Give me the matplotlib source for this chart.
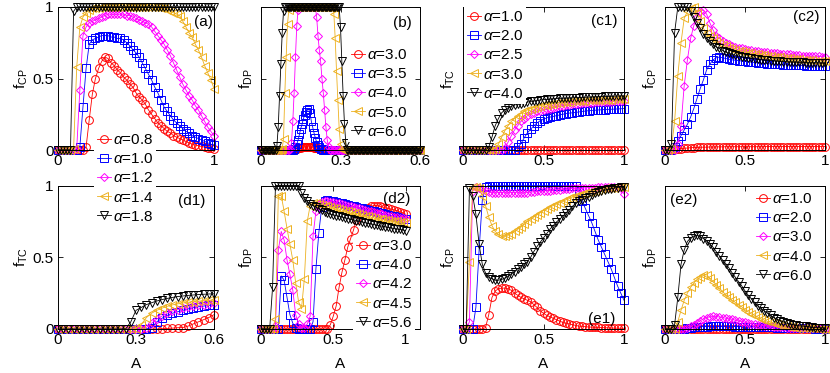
import numpy as np
import matplotlib

matplotlib.use("Agg")
import matplotlib.pyplot as plt

plt.rcParams["font.family"] = ["Liberation Sans", "DejaVu Sans"]
plt.rcParams["mathtext.fontset"] = "custom"
plt.rcParams["mathtext.rm"] = "Liberation Sans"
plt.rcParams["mathtext.it"] = "Liberation Sans:italic"

RED, BLUE, MAG, ORG, BLK = "#FF0000", "#0000FF", "#FF00FF", "#EDB120", "#000000"
COLORS = [RED, BLUE, MAG, ORG, BLK]
MARKERS = ["o", "s", "D", "<", "v"]
MSIZE = {"o": 5.6, "s": 5.2, "D": 4.0, "<": 5.8, "v": 5.8}

# sampling grids of A used by the simulations
A1 = np.linspace(0, 1, 51)         # 0..1, step 0.02
A06 = np.linspace(0, 0.6, 31)      # 0..0.6, step 0.02
A06F = np.linspace(0, 0.6, 121)    # 0..0.6, step 0.005

# legend alphas
alpha_ad = ["0.8", "1.0", "1.2", "1.4", "1.8"]
alpha_b = ["3.0", "3.5", "4.0", "5.0", "6.0"]
alpha_c = ["1.0", "2.0", "2.5", "3.0", "4.0"]
alpha_d2 = ["3.0", "4.0", "4.2", "4.5", "5.6"]
alpha_e = ["1.0", "2.0", "3.0", "4.0", "6.0"]

# ---- (a) f_CP ----
a_red = [0, 0, 0, 0, 0, 0, 0, 0, 0, 0.02,
         0.21, 0.39, 0.50, 0.57, 0.62, 0.65, 0.64, 0.61, 0.59, 0.56,
         0.54, 0.51, 0.49, 0.46, 0.44, 0.40, 0.37, 0.35, 0.32, 0.28,
         0.25, 0.22, 0.19, 0.17, 0.15, 0.13, 0.12, 0.10, 0.09, 0.08,
         0.07, 0.06, 0.05, 0.04, 0.035, 0.03, 0.025, 0.02, 0.015, 0.015,
         0.01]
a_blue = [0, 0, 0, 0, 0, 0, 0, 0.02, 0.30, 0.57,
          0.74, 0.77, 0.78, 0.79, 0.80, 0.80, 0.80, 0.79, 0.79, 0.78,
          0.78, 0.77, 0.75, 0.73, 0.70, 0.68, 0.65, 0.61, 0.57, 0.53,
          0.49, 0.44, 0.40, 0.35, 0.30, 0.27, 0.24, 0.21, 0.19, 0.17,
          0.15, 0.13, 0.12, 0.10, 0.09, 0.08, 0.07, 0.06, 0.05, 0.04,
          0.035]
a_mag = [0, 0, 0, 0, 0, 0, 0.01, 0.42, 0.80, 0.86,
         0.89, 0.90, 0.91, 0.92, 0.93, 0.94, 0.95, 0.95, 0.95, 0.95,
         0.95, 0.95, 0.94, 0.94, 0.93, 0.92, 0.91, 0.90, 0.89, 0.88,
         0.86, 0.83, 0.80, 0.77, 0.74, 0.70, 0.66, 0.61, 0.56, 0.51,
         0.46, 0.42, 0.38, 0.35, 0.31, 0.28, 0.24, 0.20, 0.16, 0.13,
         0.10]
a_org = [0, 0, 0, 0, 0, 0.01, 0.58, 0.86, 0.93, 0.96,
         0.98, 0.99, 0.99, 0.99, 1, 1, 1, 1, 1, 1,
         1, 1, 1, 1, 1, 1, 1, 1, 1, 1,
         1, 1, 1, 0.99, 0.99, 0.98, 0.97, 0.96, 0.95, 0.94,
         0.90, 0.86, 0.82, 0.79, 0.74, 0.70, 0.65, 0.59, 0.54, 0.49,
         0.43]
a_blk = [0, 0, 0, 0, 0, 0.97, 1, 1, 1, 1,
         1, 1, 1, 1, 1, 1, 1, 1, 1, 1,
         1, 1, 1, 1, 1, 1, 1, 1, 1, 1,
         1, 1, 1, 1, 1, 1, 1, 1, 1, 1,
         1, 1, 1, 1, 1, 1, 1, 1, 1, 1,
         1]

# ---- (b) f_DP, fine grid ----
b_red = [0, 0, 0, 0, 0, 0, 0, 0, 0, 0, 0, 0, 0, 0, 0, 0, 0, 0, 0, 0,
         0, 0, 0, 0, 0.003, 0.005, 0.008, 0.01, 0.012, 0.014, 0.016, 0.018, 0.02, 0.021, 0.022, 0.022, 0.022, 0.021, 0.02, 0.019,
         0.017, 0.015, 0.013, 0.011, 0.008, 0.006, 0.004, 0.003, 0.002, 0, 0, 0, 0, 0, 0, 0, 0, 0, 0, 0,
         0, 0, 0, 0, 0, 0, 0, 0, 0, 0, 0, 0, 0, 0, 0, 0, 0, 0, 0, 0,
         0, 0, 0, 0, 0, 0, 0, 0, 0, 0, 0, 0, 0, 0, 0, 0, 0, 0, 0, 0,
         0, 0, 0, 0, 0, 0, 0, 0, 0, 0, 0, 0, 0, 0, 0, 0, 0, 0, 0, 0,
         0]
b_blue = [0, 0, 0, 0, 0, 0, 0, 0, 0, 0, 0, 0, 0, 0, 0, 0, 0, 0, 0, 0,
          0, 0, 0, 0, 0, 0.01, 0.02, 0.04, 0.07, 0.11, 0.15, 0.18, 0.22, 0.245, 0.265, 0.28, 0.285, 0.26, 0.20, 0.16,
          0.12, 0.085, 0.055, 0.035, 0.02, 0.01, 0.005, 0, 0, 0, 0, 0, 0, 0, 0, 0, 0, 0, 0, 0,
          0, 0, 0, 0, 0, 0, 0, 0, 0, 0, 0, 0, 0, 0, 0, 0, 0, 0, 0, 0,
          0, 0, 0, 0, 0, 0, 0, 0, 0, 0, 0, 0, 0, 0, 0, 0, 0, 0, 0, 0,
          0, 0, 0, 0, 0, 0, 0, 0, 0, 0, 0, 0, 0, 0, 0, 0, 0, 0, 0, 0,
          0]
b_mag = [0, 0, 0, 0, 0, 0, 0, 0, 0, 0, 0, 0, 0, 0, 0, 0, 0, 0, 0, 0,
         0, 0, 0.01, 0.05, 0.2, 0.4, 0.65, 0.87, 0.98, 1, 1, 1, 1, 1, 1, 1, 1, 1, 1, 1,
         1, 1, 0.93, 0.80, 0.70, 0.62, 0.50, 0.40, 0.28, 0.16, 0.07, 0.02, 0, 0, 0, 0, 0, 0, 0, 0,
         0, 0, 0, 0, 0, 0, 0, 0, 0, 0, 0, 0, 0, 0, 0, 0, 0, 0, 0, 0,
         0, 0, 0, 0, 0, 0, 0, 0, 0, 0, 0, 0, 0, 0, 0, 0, 0, 0, 0, 0,
         0, 0, 0, 0, 0, 0, 0, 0, 0, 0, 0, 0, 0, 0, 0, 0, 0, 0, 0, 0,
         0]
b_org = [0, 0, 0, 0, 0, 0, 0, 0, 0, 0, 0, 0, 0, 0, 0, 0, 0.01, 0.08, 0.40, 0.65,
         0.88, 0.98, 1, 1, 1, 1, 1, 1, 1, 1, 1, 1, 1, 1, 1, 1, 1, 1, 1, 1,
         1, 1, 1, 1, 1, 1, 1, 1, 1, 1, 1, 1, 1, 1, 1, 0.95, 0.78, 0.55, 0.35, 0.15,
         0.04, 0.01, 0, 0, 0, 0, 0, 0, 0, 0, 0, 0, 0, 0, 0, 0, 0, 0, 0, 0,
         0, 0, 0, 0, 0, 0, 0, 0, 0, 0, 0, 0, 0, 0, 0, 0, 0, 0, 0, 0,
         0, 0, 0, 0, 0, 0, 0, 0, 0, 0, 0, 0, 0, 0, 0, 0, 0, 0, 0, 0,
         0]
b_blk = [0, 0, 0, 0, 0, 0, 0, 0, 0, 0, 0, 0, 0.03, 0.16, 0.38, 0.60, 0.82, 0.97, 1, 1,
         1, 1, 1, 1, 1, 1, 1, 1, 1, 1, 1, 1, 1, 1, 1, 1, 1, 1, 1, 1,
         1, 1, 1, 1, 1, 1, 1, 1, 1, 1, 1, 1, 1, 1, 1, 1, 1, 1, 1, 1,
         0.86, 0.62, 0.38, 0.18, 0.05, 0, 0, 0, 0, 0, 0, 0, 0, 0, 0, 0, 0, 0, 0, 0,
         0, 0, 0, 0, 0, 0, 0, 0, 0, 0, 0, 0, 0, 0, 0, 0, 0, 0, 0, 0,
         0, 0, 0, 0, 0, 0, 0, 0, 0, 0, 0, 0, 0, 0, 0, 0, 0, 0, 0, 0,
         0]

# ---- (c1) f_TC ----
c1_red = [0, 0, 0, 0, 0, 0, 0, 0, 0, 0,
          0, 0, 0, 0, 0, 0, 0, 0, 0, 0,
          0, 0, 0, 0, 0, 0, 0, 0, 0, 0,
          0, 0, 0, 0, 0, 0, 0, 0, 0, 0,
          0, 0, 0, 0, 0, 0, 0, 0, 0, 0,
          0]
c1_blue = [0, 0, 0, 0, 0, 0, 0, 0, 0, 0,
           0, 0, 0, 0, 0, 0, 0, 0.02, 0.045, 0.085,
           0.12, 0.145, 0.17, 0.19, 0.205, 0.215, 0.225, 0.23, 0.235, 0.24,
           0.245, 0.25, 0.255, 0.258, 0.26, 0.263, 0.266, 0.27, 0.272, 0.275,
           0.277, 0.278, 0.28, 0.281, 0.283, 0.284, 0.285, 0.286, 0.287, 0.288,
           0.29]
c1_mag = [0, 0, 0, 0, 0, 0, 0, 0, 0, 0,
          0, 0, 0, 0.015, 0.055, 0.10, 0.14, 0.17, 0.20, 0.22,
          0.24, 0.25, 0.26, 0.27, 0.275, 0.28, 0.285, 0.29, 0.295, 0.30,
          0.305, 0.31, 0.313, 0.316, 0.32, 0.322, 0.324, 0.326, 0.328, 0.33,
          0.332, 0.333, 0.334, 0.335, 0.336, 0.337, 0.338, 0.34, 0.341, 0.342,
          0.344]
c1_org = [0, 0, 0, 0, 0, 0, 0, 0, 0, 0,
          0.01, 0.04, 0.09, 0.135, 0.17, 0.20, 0.22, 0.24, 0.255, 0.27,
          0.28, 0.29, 0.295, 0.30, 0.31, 0.315, 0.318, 0.32, 0.325, 0.328,
          0.33, 0.333, 0.335, 0.337, 0.34, 0.342, 0.343, 0.345, 0.346, 0.347,
          0.348, 0.349, 0.35, 0.351, 0.352, 0.353, 0.353, 0.354, 0.355, 0.355,
          0.356]
c1_blk = [0, 0, 0, 0, 0, 0, 0, 0, 0.02, 0.09,
          0.17, 0.22, 0.26, 0.28, 0.295, 0.305, 0.315, 0.32, 0.325, 0.33,
          0.335, 0.34, 0.343, 0.346, 0.349, 0.352, 0.354, 0.356, 0.358, 0.36,
          0.361, 0.362, 0.363, 0.364, 0.365, 0.366, 0.367, 0.368, 0.369, 0.37,
          0.371, 0.372, 0.373, 0.374, 0.375, 0.375, 0.376, 0.377, 0.377, 0.378,
          0.378]

# ---- (c2) f_CP ----
c2_red = [0, 0, 0.002, 0.005, 0.008, 0.01, 0.012, 0.014, 0.016, 0.017,
          0.018, 0.019, 0.02, 0.02, 0.021, 0.021, 0.022, 0.022, 0.022, 0.023,
          0.023, 0.023, 0.023, 0.023, 0.023, 0.023, 0.023, 0.023, 0.023, 0.023,
          0.023, 0.024, 0.024, 0.024, 0.024, 0.024, 0.024, 0.024, 0.024, 0.024,
          0.024, 0.024, 0.024, 0.024, 0.024, 0.024, 0.024, 0.024, 0.024, 0.024,
          0.024]
c2_blue = [0, 0, 0, 0.02, 0.06, 0.10, 0.14, 0.18, 0.23, 0.29,
           0.36, 0.43, 0.49, 0.56, 0.60, 0.63, 0.645, 0.65, 0.645, 0.64,
           0.635, 0.63, 0.628, 0.625, 0.622, 0.62, 0.617, 0.615, 0.612, 0.61,
           0.608, 0.606, 0.604, 0.602, 0.60, 0.60, 0.598, 0.597, 0.596, 0.595,
           0.594, 0.593, 0.592, 0.591, 0.59, 0.59, 0.589, 0.588, 0.588, 0.587,
           0.586]
c2_mag = [0, 0, 0, 0, 0.04, 0.17, 0.45, 0.63, 0.78, 0.87,
          0.93, 0.97, 0.98, 0.95, 0.89, 0.84, 0.80, 0.78, 0.76, 0.75,
          0.74, 0.73, 0.72, 0.715, 0.71, 0.705, 0.70, 0.697, 0.694, 0.691,
          0.688, 0.685, 0.683, 0.68, 0.678, 0.676, 0.674, 0.672, 0.67, 0.668,
          0.666, 0.664, 0.662, 0.66, 0.659, 0.657, 0.656, 0.655, 0.654, 0.653,
          0.652]
c2_org = [0, 0, 0.01, 0.20, 0.52, 0.75, 0.92, 0.97, 0.99, 1.0,
          0.96, 0.90, 0.85, 0.82, 0.80, 0.78, 0.76, 0.745, 0.735, 0.725,
          0.715, 0.705, 0.70, 0.695, 0.69, 0.685, 0.68, 0.676, 0.672, 0.668,
          0.665, 0.662, 0.659, 0.656, 0.653, 0.65, 0.648, 0.645, 0.643, 0.64,
          0.638, 0.636, 0.634, 0.632, 0.63, 0.628, 0.626, 0.625, 0.624, 0.622,
          0.62]
c2_blk = [0, 0, 0.04, 0.82, 1, 1, 1, 1, 0.97, 0.93,
          0.89, 0.85, 0.81, 0.78, 0.76, 0.74, 0.72, 0.71, 0.695, 0.685,
          0.675, 0.668, 0.662, 0.657, 0.652, 0.648, 0.644, 0.64, 0.637, 0.634,
          0.631, 0.629, 0.627, 0.625, 0.623, 0.621, 0.62, 0.618, 0.617, 0.616,
          0.615, 0.614, 0.613, 0.612, 0.611, 0.61, 0.61, 0.609, 0.609, 0.608,
          0.608]

# ---- (d1) f_TC, A up to 0.6 ----
d1_red = [0, 0, 0, 0, 0, 0, 0, 0, 0, 0,
          0, 0, 0, 0, 0, 0, 0, 0, 0, 0,
          0.002, 0.004, 0.006, 0.009, 0.01, 0.02, 0.035, 0.05, 0.065, 0.08,
          0.10]
d1_blue = [0, 0, 0, 0, 0, 0, 0, 0, 0, 0,
           0, 0, 0, 0, 0, 0, 0, 0, 0.01, 0.05,
           0.075, 0.095, 0.11, 0.12, 0.13, 0.14, 0.148, 0.155, 0.16, 0.165,
           0.17]
d1_mag = [0, 0, 0, 0, 0, 0, 0, 0, 0, 0,
          0, 0, 0, 0, 0, 0, 0, 0.01, 0.04, 0.07,
          0.09, 0.11, 0.125, 0.135, 0.145, 0.153, 0.16, 0.165, 0.17, 0.175,
          0.18]
d1_org = [0, 0, 0, 0, 0, 0, 0, 0, 0, 0,
          0, 0, 0, 0, 0, 0, 0.03, 0.08, 0.11, 0.13,
          0.145, 0.158, 0.168, 0.175, 0.181, 0.186, 0.19, 0.194, 0.197, 0.20,
          0.202]
d1_blk = [0, 0, 0, 0, 0, 0, 0, 0, 0, 0,
          0, 0, 0, 0, 0.05, 0.13, 0.15, 0.17, 0.183, 0.195,
          0.205, 0.213, 0.22, 0.226, 0.23, 0.234, 0.237, 0.24, 0.242, 0.244,
          0.245]

# ---- (d2) f_DP ----
d2_red = [0, 0, 0, 0, 0, 0, 0, 0, 0, 0,
          0, 0, 0, 0, 0, 0, 0, 0, 0, 0,
          0, 0, 0, 0, 0.03, 0.09, 0.16, 0.29, 0.395, 0.48,
          0.57, 0.63, 0.69, 0.76, 0.80, 0.815, 0.83, 0.845, 0.855, 0.86,
          0.86, 0.855, 0.85, 0.845, 0.84, 0.835, 0.83, 0.825, 0.815, 0.81,
          0.80]
d2_blue = [0, 0, 0, 0, 0, 0, 0, 0.37, 0.34, 0.22,
           0.10, 0.04, 0.01, 0, 0, 0, 0, 0, 0.05, 0.42,
           0.67, 0.85, 0.89, 0.90, 0.895, 0.89, 0.885, 0.88, 0.875, 0.87,
           0.865, 0.86, 0.855, 0.85, 0.845, 0.84, 0.835, 0.83, 0.825, 0.82,
           0.815, 0.81, 0.805, 0.80, 0.795, 0.79, 0.785, 0.78, 0.775, 0.77,
           0.765]
d2_mag = [0, 0, 0, 0, 0, 0.02, 0.55, 0.68, 0.62, 0.48,
          0.38, 0.27, 0.10, 0.035, 0.01, 0.01, 0.035, 0.09, 0.65, 0.82,
          0.87, 0.885, 0.89, 0.89, 0.888, 0.885, 0.88, 0.875, 0.87, 0.865,
          0.86, 0.855, 0.85, 0.845, 0.84, 0.835, 0.83, 0.825, 0.82, 0.815,
          0.81, 0.805, 0.80, 0.795, 0.79, 0.785, 0.78, 0.78, 0.775, 0.775,
          0.77]
d2_org = [0, 0, 0, 0, 0, 0.07, 0.93, 0.93, 0.82, 0.70,
          0.59, 0.48, 0.32, 0.19, 0.14, 0.35, 0.75, 0.86, 0.88, 0.875,
          0.87, 0.865, 0.86, 0.855, 0.85, 0.845, 0.84, 0.835, 0.83, 0.825,
          0.82, 0.815, 0.81, 0.805, 0.80, 0.795, 0.79, 0.785, 0.78, 0.775,
          0.77, 0.767, 0.764, 0.761, 0.758, 0.755, 0.752, 0.75, 0.747, 0.744,
          0.74]
d2_blk = [0, 0, 0, 0, 0.29, 1, 1, 1, 1, 1,
          1, 1, 1, 1, 0.95, 0.915, 0.89, 0.87, 0.86, 0.85,
          0.837, 0.827, 0.818, 0.809, 0.80, 0.795, 0.79, 0.785, 0.78, 0.775,
          0.77, 0.765, 0.76, 0.756, 0.751, 0.746, 0.741, 0.736, 0.732, 0.728,
          0.724, 0.72, 0.716, 0.712, 0.708, 0.704, 0.70, 0.697, 0.694, 0.69,
          0.686]

# ---- (e1) f_CP ----
e1_red = [0, 0, 0, 0, 0, 0, 0, 0.01, 0.10, 0.22,
          0.265, 0.28, 0.285, 0.285, 0.28, 0.27, 0.25, 0.235, 0.22, 0.21,
          0.20, 0.19, 0.17, 0.15, 0.125, 0.11, 0.095, 0.085, 0.075, 0.065,
          0.055, 0.046, 0.04, 0.035, 0.03, 0.025, 0.02, 0.018, 0.016, 0.014,
          0.013, 0.012, 0.011, 0.01, 0.009, 0.008, 0.007, 0.006, 0.006, 0.005,
          0.005]
e1_blue = [0, 0, 0, 0, 0.15, 0.55, 0.90, 0.99, 1, 1,
           1, 1, 1, 1, 1, 1, 1, 1, 1, 1,
           1, 1, 1, 1, 1, 1, 1, 1, 1, 1,
           1, 1, 1, 1, 1, 1, 0.96, 0.89, 0.84, 0.79,
           0.74, 0.68, 0.62, 0.57, 0.52, 0.47, 0.42, 0.36, 0.30, 0.25,
           0.20]
e1_mag = [0, 0, 0.05, 0.96, 0.99, 0.985, 0.97, 0.96, 0.955, 0.95,
          0.95, 0.95, 0.95, 0.95, 0.95, 0.95, 0.95, 0.95, 0.95, 0.95,
          0.95, 0.955, 0.955, 0.96, 0.96, 0.96, 0.965, 0.965, 0.97, 0.97,
          0.97, 0.975, 0.975, 0.975, 0.98, 0.98, 0.98, 0.98, 0.985, 0.985,
          0.985, 0.985, 0.99, 0.99, 0.99, 0.99, 0.99, 0.99, 0.99, 0.985,
          0.94]
e1_org = [0, 0, 0.47, 0.99, 0.99, 0.98, 0.93, 0.86, 0.78, 0.72,
          0.68, 0.66, 0.645, 0.645, 0.655, 0.665, 0.68, 0.695, 0.71, 0.73,
          0.75, 0.765, 0.78, 0.795, 0.81, 0.825, 0.835, 0.85, 0.86, 0.87,
          0.88, 0.89, 0.90, 0.91, 0.92, 0.925, 0.935, 0.94, 0.95, 0.955,
          0.96, 0.965, 0.97, 0.975, 0.98, 0.98, 0.985, 0.985, 0.99, 0.99,
          0.99]
e1_blk = [0, 0, 0.98, 0.93, 0.80, 0.59, 0.45, 0.39, 0.36, 0.35,
          0.34, 0.34, 0.345, 0.355, 0.37, 0.385, 0.40, 0.42, 0.435, 0.45,
          0.47, 0.50, 0.54, 0.575, 0.605, 0.635, 0.665, 0.695, 0.72, 0.745,
          0.765, 0.785, 0.81, 0.83, 0.855, 0.875, 0.89, 0.90, 0.91, 0.92,
          0.935, 0.945, 0.955, 0.96, 0.967, 0.973, 0.978, 0.982, 0.986, 0.99,
          0.99]

# ---- (e2) f_DP ----
e2_red = [0, 0, 0, 0, 0, 0, 0, 0, 0, 0,
          0, 0, 0, 0, 0, 0, 0, 0, 0, 0,
          0, 0, 0, 0, 0, 0, 0, 0, 0, 0,
          0, 0, 0, 0, 0, 0, 0, 0, 0, 0,
          0, 0, 0, 0, 0, 0, 0, 0, 0, 0,
          0]
e2_blue = [0, 0, 0, 0, 0, 0, 0, 0.005, 0.01, 0.013,
           0.015, 0.016, 0.017, 0.017, 0.018, 0.018, 0.018, 0.018, 0.018, 0.018,
           0.018, 0.018, 0.017, 0.017, 0.017, 0.016, 0.016, 0.015, 0.015, 0.014,
           0.014, 0.013, 0.012, 0.012, 0.011, 0.01, 0.01, 0.009, 0.008, 0.008,
           0.007, 0.006, 0.006, 0.005, 0.005, 0.004, 0.004, 0.003, 0.003, 0.002,
           0.002]
e2_mag = [0, 0, 0, 0, 0, 0, 0, 0.005, 0.018, 0.03,
          0.045, 0.058, 0.07, 0.079, 0.085, 0.088, 0.087, 0.083, 0.079, 0.075,
          0.071, 0.067, 0.062, 0.057, 0.052, 0.047, 0.042, 0.037, 0.033, 0.029,
          0.026, 0.023, 0.02, 0.018, 0.016, 0.014, 0.012, 0.011, 0.01, 0.009,
          0.008, 0.007, 0.007, 0.006, 0.006, 0.005, 0.005, 0.004, 0.004, 0.003,
          0.003]
e2_org = [0, 0, 0, 0, 0.05, 0.13, 0.20, 0.25, 0.29, 0.32,
          0.345, 0.36, 0.375, 0.378, 0.355, 0.33, 0.31, 0.285, 0.26, 0.24,
          0.22, 0.20, 0.185, 0.17, 0.155, 0.135, 0.12, 0.105, 0.095, 0.083,
          0.07, 0.062, 0.053, 0.047, 0.04, 0.035, 0.03, 0.025, 0.02, 0.017,
          0.014, 0.01, 0.009, 0.008, 0.007, 0.005, 0.004, 0.004, 0.003, 0.003,
          0.002]
e2_blk = [0, 0, 0, 0.03, 0.22, 0.45, 0.55, 0.61, 0.635, 0.648,
          0.652, 0.645, 0.63, 0.615, 0.595, 0.57, 0.54, 0.51, 0.48, 0.455,
          0.425, 0.39, 0.36, 0.33, 0.30, 0.265, 0.235, 0.21, 0.185, 0.16,
          0.145, 0.127, 0.11, 0.095, 0.08, 0.068, 0.058, 0.05, 0.04, 0.035,
          0.03, 0.026, 0.022, 0.02, 0.018, 0.015, 0.012, 0.01, 0.009, 0.008,
          0.007]

W, H = 830, 373
fig = plt.figure(figsize=(W / 100, H / 100), dpi=100)


def px_axes(left, top, width, height):
    return fig.add_axes([left / W, 1 - (top + height) / H, width / W, height / H])


def draw(ax, x, series, alphas):
    handles = []
    for y, c, m, a in zip(series, COLORS, MARKERS, alphas):
        h, = ax.plot(x, y, color=c, lw=0.6, marker=m, ms=MSIZE[m], mfc="none",
                     mec=c, mew=0.7, clip_on=False, label=r"$\alpha$=" + a)
        handles.append(h)
    return handles


def style(ax, xmax, xticks, xlabels, ylabel, show_y, ylab_x, tag, tag_xy, tag_ha="right",
          xlabel=False):
    ax.set_xlim(0, xmax)
    ax.set_ylim(0, 1)
    ax.set_xticks(xticks)
    ax.set_xticklabels(xlabels)
    ax.set_yticks([0, 0.5, 1])
    ax.set_yticklabels(["0", "0.5", "1"] if show_y else [])
    ax.tick_params(direction="in", top=True, right=True, length=3.5, width=0.6,
                   labelsize=11, pad=3)
    for s in ax.spines.values():
        s.set_linewidth(0.7)
    ax.set_ylabel(ylabel, fontsize=11)
    ax.yaxis.set_label_coords(ylab_x, 0.5)
    if xlabel:
        ax.set_xlabel("A", fontsize=11, labelpad=7)
    ax.text(tag_xy[0], tag_xy[1], tag, transform=ax.transAxes, fontsize=11,
            ha=tag_ha, va="center")


LEFTS = [58, 261, 463, 665]
WIDTHS = [156, 159, 161, 160]
TOP1, H1 = 7, 143
TOP2, H2 = 185.5, 143.5

ax_a = px_axes(LEFTS[0], TOP1, WIDTHS[0], H1)
ax_b = px_axes(LEFTS[1], TOP1, WIDTHS[1], H1)
ax_c1 = px_axes(LEFTS[2], TOP1, WIDTHS[2], H1)
ax_c2 = px_axes(LEFTS[3], TOP1, WIDTHS[3], H1)
ax_d1 = px_axes(LEFTS[0], TOP2, WIDTHS[0], H2)
ax_d2 = px_axes(LEFTS[1], TOP2, WIDTHS[1], H2)
ax_e1 = px_axes(LEFTS[2], TOP2, WIDTHS[2], H2)
ax_e2 = px_axes(LEFTS[3], TOP2, WIDTHS[3], H2)

t01 = [0, 0.5, 1]
l01 = ["0", "0.5", "1"]
t06 = [0, 0.3, 0.6]
l06 = ["0", "0.3", "0.6"]
FCP = r"f$_{\mathregular{CP}}$"
FDP = r"f$_{\mathregular{DP}}$"
FTC = r"f$_{\mathregular{TC}}$"

h_a = draw(ax_a, A1, [a_red, a_blue, a_mag, a_org, a_blk], alpha_ad)
# the 0.5 label of (a) sits under the legend box in the original
style(ax_a, 1, t01, ["0", "", "1"], FCP, True, -0.18, "(a)", (0.99, 0.895))

h_b = draw(ax_b, A06F, [b_red, b_blue, b_mag, b_org, b_blk], alpha_b)
style(ax_b, 0.6, t06, l06, FDP, False, -0.04, "(b)", (0.95, 0.885))

h_c1 = draw(ax_c1, A1, [c1_red, c1_blue, c1_mag, c1_org, c1_blk], alpha_c)
style(ax_c1, 1, t01, l01, FTC, False, -0.04, "(c1)", (0.957, 0.90))

draw(ax_c2, A1, [c2_red, c2_blue, c2_mag, c2_org, c2_blk], alpha_c)
style(ax_c2, 1, t01, l01, FCP, False, -0.04, "(c2)", (0.963, 0.927))

draw(ax_d1, A06, [d1_red, d1_blue, d1_mag, d1_org, d1_blk], alpha_ad)
style(ax_d1, 0.6, t06, l06, FTC, True, -0.18, "(d1)", (0.942, 0.895), xlabel=True)

h_d2 = draw(ax_d2, A1, [d2_red, d2_blue, d2_mag, d2_org, d2_blk], alpha_d2)
style(ax_d2, 1.1, t01, l01, FDP, False, -0.04, "(d2)", (0.937, 0.909), xlabel=True)

draw(ax_e1, A1, [e1_red, e1_blue, e1_mag, e1_org, e1_blk], alpha_e)
style(ax_e1, 1, t01, l01, FCP, False, -0.04, "(e1)", (0.944, 0.073), xlabel=True)

h_e2 = draw(ax_e2, A1, [e2_red, e2_blue, e2_mag, e2_org, e2_blk], alpha_e)
style(ax_e2, 1, t01, l01, FDP, False, -0.04, "(e2)", (0.031, 0.899), tag_ha="left",
      xlabel=True)

LEG = dict(fontsize=11, handlelength=0.9, handletextpad=0.15, labelspacing=0.34,
           borderpad=0.2, borderaxespad=0, frameon=True, fancybox=False,
           edgecolor="none", facecolor="white", framealpha=1, loc="upper left",
           numpoints=1, bbox_transform=fig.transFigure)

leg_a = fig.legend(handles=h_a, bbox_to_anchor=(94 / W, 1 - 130 / H), **LEG)
leg_a.set_zorder(20)
ax_b.legend(handles=h_b, bbox_to_anchor=(348 / W, 1 - 45 / H), **LEG)
ax_c1.legend(handles=h_c1, bbox_to_anchor=(464 / W, 1 - 7 / H), **LEG)
ax_d2.legend(handles=h_d2, bbox_to_anchor=(353 / W, 1 - 236 / H), **LEG)
ax_e2.legend(handles=h_e2, bbox_to_anchor=(753 / W, 1 - 189 / H), **LEG)

fig.savefig("out.png", dpi=100, facecolor="white")
